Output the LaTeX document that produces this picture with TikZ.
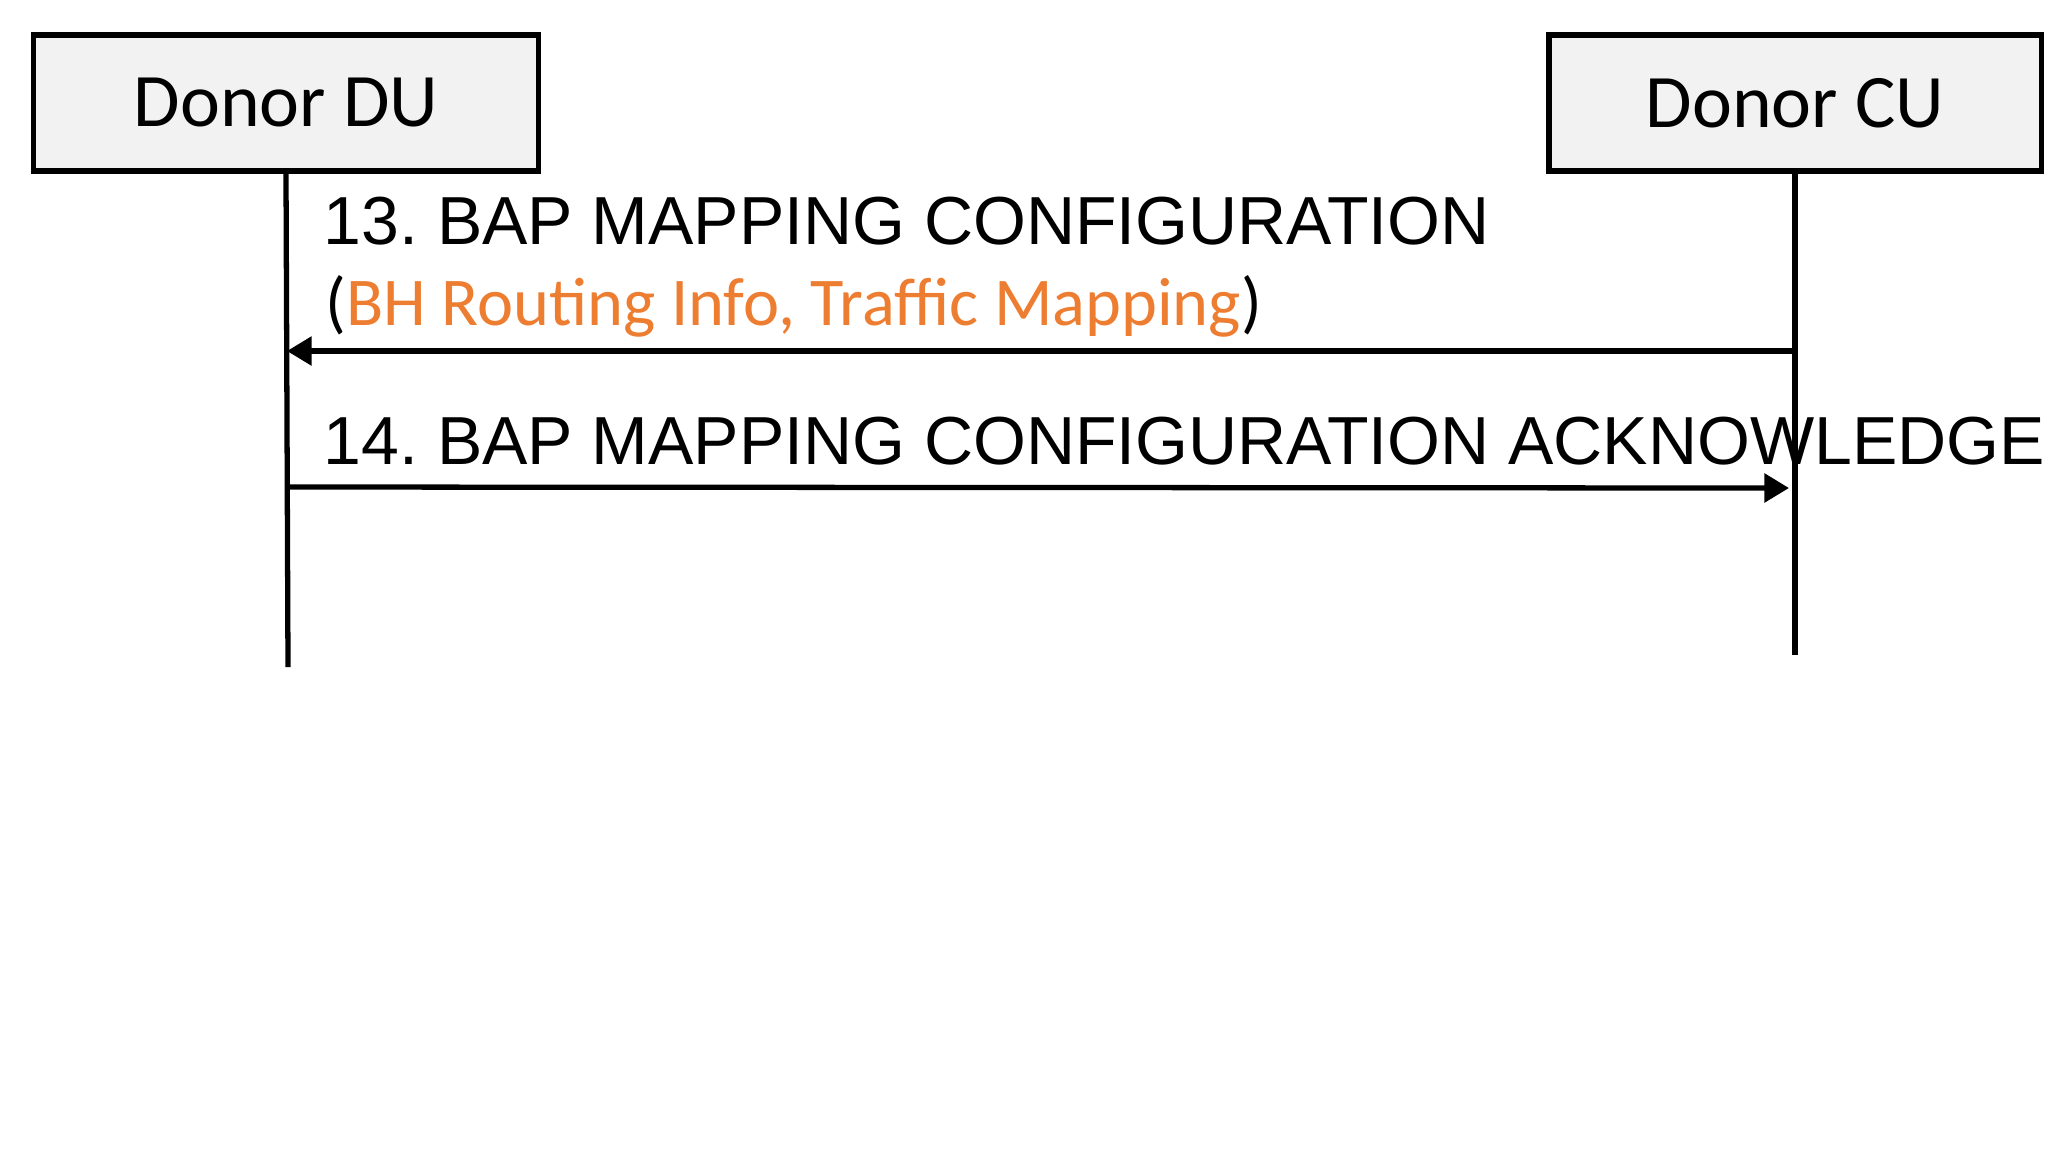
\documentclass[tikz,border=0pt]{standalone}
\usepackage{fontspec}
\setmainfont{Liberation Sans}
\newfontfamily\calibfont{Carlito}
\usepackage{xcolor}
\usetikzlibrary{arrows.meta,positioning}
\definecolor{boxgray}{HTML}{F2F2F2}
\definecolor{infoorange}{HTML}{ED7D31}
\frenchspacing
\tikzset{
  entity/.style={rectangle,draw=black,fill=boxgray,line width=1.5pt,minimum height=1.36cm,inner sep=0pt,font=\calibfont\fontsize{21.5}{26}\selectfont},
  lifeline/.style={line width=1.5pt,black},
  msg/.style={line width=1.5pt,black,-{Triangle[length=7pt,width=8pt]}},
  msglab/.style={anchor=base west,inner sep=0pt,font=\fontsize{19.33}{23}\selectfont},
  infolab/.style={anchor=base west,inner sep=0pt,font=\calibfont\fontsize{19.45}{23}\selectfont}
}
\begin{document}
\begin{tikzpicture}[x=0.01cm,y=-0.01cm]
  \useasboundingbox (0,0) rectangle (2048,1153);
  % entities
  \node[entity,minimum width=5.04cm] (du) at (286,103) {Donor DU};
  \node[entity,minimum width=4.92cm] (cu) at (1795,103) {Donor CU};
  % lifelines
  \coordinate (duend) at (288,667);
  \coordinate (cuend) at (1795,655);
  \draw[lifeline] (du.south) -- (duend);
  \draw[lifeline] (cu.south) -- (cuend);
  % messages
  \coordinate (m13s) at (1795,351);
  \coordinate (m13e) at (287,351);
  \coordinate (m14s) at (288,487);
  \coordinate (m14e) at (1789,488);
  \draw[msg] (m13s) -- (m13e);
  \draw[msg] (m14s) -- (m14e);
  \node[msglab] (l13) at (323,244) {13. BAP MAPPING CONFIGURATION};
  \node[infolab] (l13b) at (325,325) {(\textcolor{infoorange}{BH Routing Info, Traffic Mapping})};
  \node[msglab] (l14) at (323,464) {14. BAP MAPPING CONFIGURATION ACKNOWLEDGE};
\end{tikzpicture}
\end{document}
